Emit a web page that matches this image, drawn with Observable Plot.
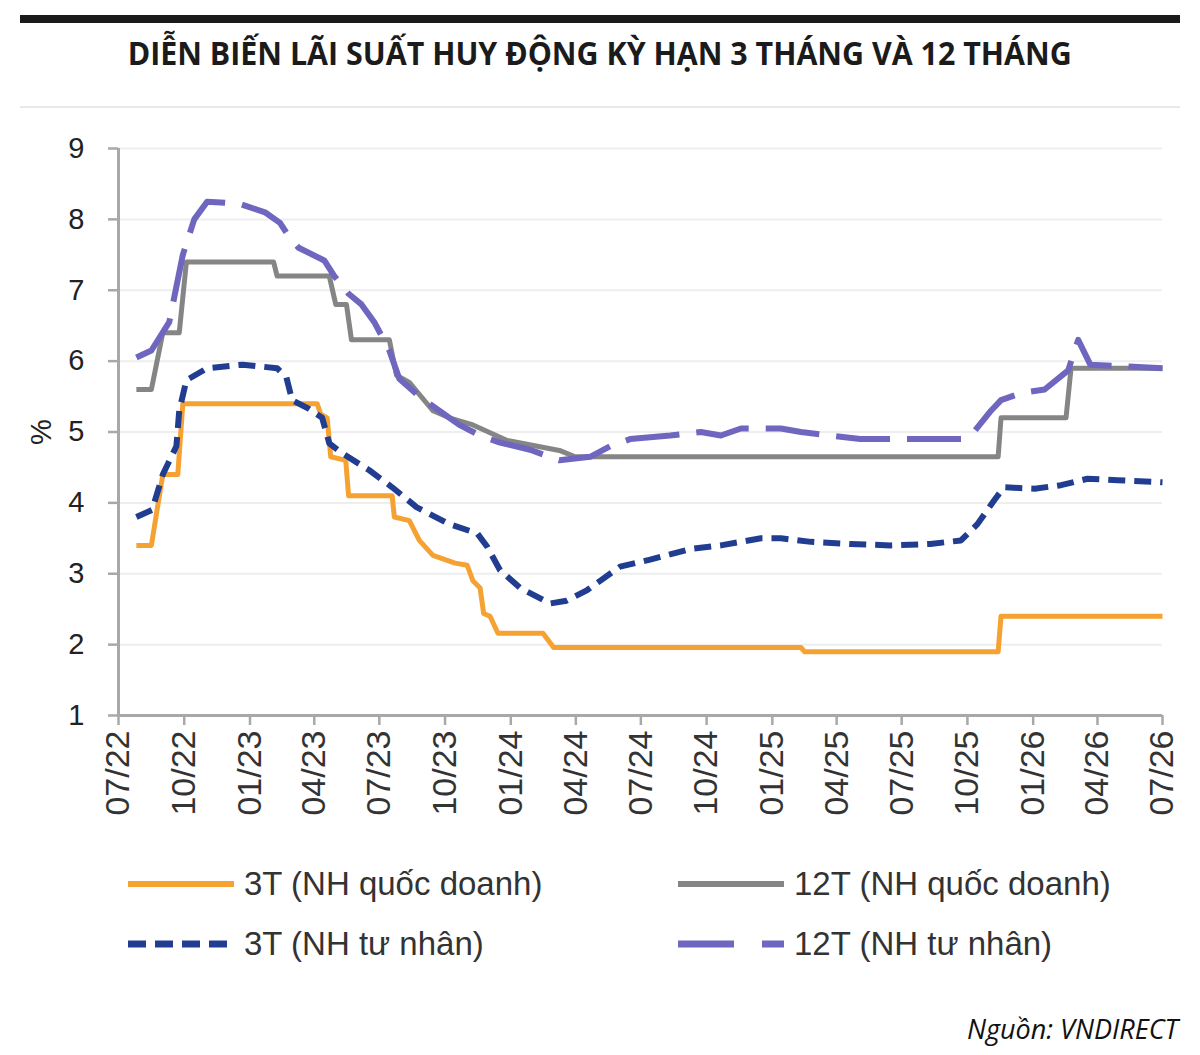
<!DOCTYPE html>
<html><head><meta charset="utf-8">
<script src="https://cdn.jsdelivr.net/npm/d3@7"></script>
<script src="https://cdn.jsdelivr.net/npm/@observablehq/plot@0.6"></script>
<style>
html,body{margin:0;padding:0;background:#fff}
body{width:1200px;height:1055px;position:relative;overflow:hidden;font-family:"Liberation Sans",Arial,sans-serif}
#topbar{position:absolute;left:20px;top:15px;width:1160px;height:8px;background:#1b1b1b}
#title{position:absolute;left:0;top:32px;width:1200px;text-align:center;white-space:nowrap}
#title span{display:inline-block;font-family:"Open Sans",sans-serif;font-weight:700;font-size:33px;line-height:42px;color:#1b1b1b;transform-origin:50% 50%}
#sep{position:absolute;left:20px;top:106px;width:1160px;height:2px;background:#e8e8e8}
#chart{position:absolute;left:0;top:110px}
.leg{position:absolute;display:flex;align-items:center;font-size:33px;color:#333;white-space:nowrap}
.leg svg{margin-right:10px}
#source{position:absolute;right:22px;top:1010px;font-family:"Open Sans",sans-serif;font-style:italic;font-size:27px;color:#111}
</style></head>
<body>
<div id="topbar"></div>
<div id="title"><span>DIỄN BIẾN LÃI SUẤT HUY ĐỘNG KỲ HẠN 3 THÁNG VÀ 12 THÁNG</span></div>
<div id="sep"></div>
<div id="chart"></div>
<div id="legend"></div>
<div id="source">Nguồn: VNDIRECT</div>
<script>
// ---- data ----
const seriesNames = ["3T (NH quốc doanh)", "12T (NH quốc doanh)", "3T (NH tư nhân)", "12T (NH tư nhân)"];

const short_state = [
  ["2022-07-26",3.4],["2022-08-16",3.4],["2022-09-01",4.4],["2022-09-22",4.4],["2022-09-29",5.4],
  ["2023-04-05",5.4],["2023-04-10",5.25],["2023-04-19",5.2],["2023-04-24",4.65],["2023-05-15",4.6],
  ["2023-05-19",4.1],["2023-07-19",4.1],["2023-07-22",3.8],["2023-08-12",3.75],["2023-08-26",3.47],
  ["2023-09-14",3.26],["2023-10-15",3.15],["2023-11-01",3.12],["2023-11-09",2.9],["2023-11-19",2.8],
  ["2023-11-24",2.44],["2023-12-03",2.4],["2023-12-14",2.16],["2024-02-15",2.16],["2024-03-01",1.96],
  ["2025-02-10",1.96],["2025-02-15",1.9],["2025-11-13",1.9],["2025-11-17",2.4],["2026-07-01",2.4]
];
const long_state = [
  ["2022-07-26",5.6],["2022-08-16",5.6],["2022-09-01",6.4],["2022-09-24",6.4],["2022-10-04",7.4],
  ["2023-02-03",7.4],["2023-02-08",7.2],["2023-04-22",7.2],["2023-05-01",6.8],["2023-05-16",6.8],
  ["2023-05-23",6.3],["2023-07-15",6.3],["2023-07-25",5.8],["2023-08-12",5.7],["2023-09-14",5.3],
  ["2023-10-07",5.2],["2023-11-09",5.1],["2023-12-27",4.88],["2024-03-09",4.74],["2024-03-31",4.65],
  ["2025-11-13",4.65],["2025-11-17",5.2],["2026-02-16",5.2],["2026-02-23",5.9],["2026-07-01",5.9]
];
const short_private = [
  ["2022-07-26",3.8],["2022-08-17",3.9],["2022-09-01",4.4],["2022-09-20",4.8],["2022-09-24",5.3],
  ["2022-10-04",5.73],["2022-11-02",5.9],["2022-12-22",5.95],["2023-02-08",5.9],["2023-02-21",5.77],
  ["2023-03-01",5.45],["2023-03-24",5.33],["2023-04-12",5.2],["2023-04-22",4.84],["2023-05-10",4.7],
  ["2023-06-17",4.46],["2023-07-19",4.22],["2023-08-22",3.94],["2023-10-07",3.7],["2023-11-15",3.57],
  ["2023-11-29",3.38],["2023-12-17",3.05],["2024-01-14",2.8],["2024-02-25",2.58],["2024-03-19",2.62],
  ["2024-04-17",2.77],["2024-05-05",2.9],["2024-06-02",3.1],["2024-07-14",3.2],["2024-09-09",3.35],
  ["2024-10-21",3.4],["2024-12-16",3.5],["2025-01-13",3.5],["2025-02-24",3.45],["2025-04-20",3.42],
  ["2025-06-15",3.4],["2025-08-10",3.42],["2025-09-22",3.47],["2025-10-15",3.7],["2025-11-07",4.03],
  ["2025-11-21",4.22],["2026-01-03",4.2],["2026-02-09",4.25],["2026-03-18",4.34],["2026-04-29",4.32],
  ["2026-07-01",4.29]
];
const long_private = [
  ["2022-07-26",6.05],["2022-08-16",6.15],["2022-09-10",6.55],["2022-09-29",7.5],["2022-10-15",8.0],
  ["2022-11-02",8.25],["2022-12-17",8.22],["2023-01-22",8.1],["2023-02-12",7.95],["2023-02-25",7.75],
  ["2023-03-10",7.6],["2023-04-15",7.42],["2023-04-29",7.2],["2023-05-19",6.95],["2023-06-06",6.8],
  ["2023-06-24",6.55],["2023-07-15",6.15],["2023-07-29",5.75],["2023-08-26",5.5],["2023-09-23",5.3],
  ["2023-10-21",5.1],["2023-11-19",4.95],["2023-12-17",4.85],["2024-01-28",4.75],["2024-03-09",4.6],
  ["2024-04-21",4.65],["2024-05-19",4.8],["2024-06-16",4.9],["2024-08-11",4.95],["2024-09-23",5.0],
  ["2024-10-21",4.95],["2024-11-18",5.05],["2025-01-13",5.05],["2025-02-10",5.0],["2025-03-23",4.95],
  ["2025-05-04",4.9],["2025-06-29",4.9],["2025-09-22",4.9],["2025-10-10",5.0],["2025-11-03",5.3],
  ["2025-11-17",5.45],["2025-12-15",5.55],["2026-01-17",5.6],["2026-02-19",5.87],["2026-03-05",6.3],
  ["2026-03-22",5.95],["2026-07-01",5.9]
];
const xTicks = ["2022-07-01","2022-10-01","2023-01-01","2023-04-01","2023-07-01","2023-10-01",
  "2024-01-01","2024-04-01","2024-07-01","2024-10-01","2025-01-01","2025-04-01","2025-07-01",
  "2025-10-01","2026-01-01","2026-04-01","2026-07-01"];
const yTicks = [1,2,3,4,5,6,7,8,9];

// ---- styles ----
const styles = [
  {color:"#f6a233", width:5, dash:null},
  {color:"#858585", width:5, dash:null},
  {color:"#213d91", width:6, dash:"17,9"},
  {color:"#6e66bf", width:6, dash:"54,17"}
];
const seriesData = [short_state, long_state, short_private, long_private];
const toRows = (arr, s) => arr.map(([d,v]) => ({date: new Date(d + "T00:00:00Z"), value: v, series: s}));

const lineMarks = seriesData.map((arr, i) => Plot.line(toRows(arr, seriesNames[i]), {
  x: "date", y: "value", stroke: styles[i].color, strokeWidth: styles[i].width,
  strokeDasharray: styles[i].dash ?? undefined, strokeLinejoin: "round", strokeLinecap: "butt"
}));

const tickDates = xTicks.map(d => new Date(d + "T00:00:00Z"));
const chart = Plot.plot({
  width: 1200, height: 730,
  marginLeft: 118, marginRight: 38, marginTop: 38, marginBottom: 125,
  style: {fontFamily: "'Liberation Sans', Arial, sans-serif", background: "transparent", color: "#222", overflow: "visible"},
  x: {type: "utc", domain: [tickDates[0], tickDates[tickDates.length-1]]},
  y: {domain: [1, 9]},
  marks: [
    Plot.gridY(yTicks, {stroke: "#eeeeee", strokeOpacity: 1, strokeWidth: 2}),
    Plot.axisY(yTicks, {tickSize: 10, tickPadding: 24, fontSize: 29, stroke: "#a8a8a8", strokeWidth: 2.5,
      label: "%", labelAnchor: "center", labelArrow: "none", labelOffset: 88, tickFormat: d => d, color: "#222"}),
    Plot.axisX(tickDates, {tickSize: 10, tickPadding: 5, fontSize: 34, tickRotate: -90, stroke: "#a8a8a8", strokeWidth: 2.5,
      tickFormat: d3.utcFormat("%m/%y"), label: null, color: "#333"}),
    Plot.ruleY([1], {stroke: "#a8a8a8", strokeWidth: 3}),
    Plot.ruleX([tickDates[0]], {y1: 1, y2: 9, stroke: "#a8a8a8", strokeWidth: 3}),
    ...lineMarks
  ]
});
document.getElementById("chart").appendChild(chart);

// ---- title fit ----
const t = document.querySelector("#title span");
const w = t.getBoundingClientRect().width;
t.style.transform = `scaleX(${944 / w})`;

// ---- legend ----
const legendPos = [[128, 864], [678, 864], [128, 924], [678, 924]];
const leg = document.getElementById("legend");
[0, 1, 2, 3].forEach(i => {
  const [lx, ly] = legendPos[i];
  const div = document.createElement("div");
  div.className = "leg";
  div.style.left = lx + "px";
  div.style.top = ly + "px";
  const sw = d3.create("svg").attr("width", 106).attr("height", 40);
  const ln = sw.append("line").attr("x1", 0).attr("x2", 106).attr("y1", 20).attr("y2", 20)
    .attr("stroke", styles[i].color).attr("stroke-width", styles[i].width + 1);
  if (i === 2) ln.attr("stroke-dasharray", "18,9");
  if (i === 3) ln.attr("stroke-dasharray", "56,28");
  div.appendChild(sw.node());
  const sp = document.createElement("span");
  sp.textContent = seriesNames[i];
  div.appendChild(sp);
  leg.appendChild(div);
});
</script>
</body></html>
